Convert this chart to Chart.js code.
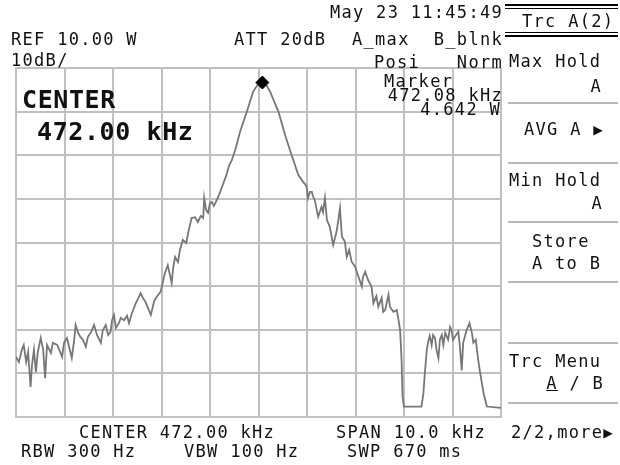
<!DOCTYPE html>
<html>
<head>
<meta charset="utf-8">
<script src="https://cdn.jsdelivr.net/npm/chart.js@4/dist/chart.umd.min.js"></script>
<style>
  body { margin: 0; background: #fff; }
  #wrap { position: relative; width: 620px; height: 465px; overflow: hidden; background: #fff; }
  #wrap canvas { position: absolute; left: 0; top: 0; }
  .t { position: absolute; white-space: pre; color: #111; line-height: 1;
       font-family: "DejaVu Sans Mono", monospace; font-size: 17px; letter-spacing: 1.3px; }
  .big { font-size: 25px; letter-spacing: 0.6px; font-weight: bold; }
  .ln { position: absolute; height: 2px; }
  .arr { font-size: 16px; letter-spacing: 0; }
</style>
</head>
<body>
<div id="wrap">
  <canvas id="sa" width="620" height="465"></canvas>
</div>
<script>
const freqKHz = [
  467.00, 467.06, 467.12, 467.16, 467.21, 467.25, 467.30, 467.33, 467.37, 467.41,
  467.45, 467.51, 467.56, 467.60, 467.64, 467.72, 467.76, 467.85, 467.91, 467.95,
  467.99, 468.05, 468.11, 468.15, 468.20, 468.23, 468.28, 468.33, 468.38, 468.44,
  468.48, 468.55, 468.61, 468.67, 468.75, 468.79, 468.85, 468.90, 468.95, 468.98,
  469.02, 469.06, 469.12, 469.16, 469.23, 469.29, 469.33, 469.39, 469.47, 469.52,
  469.57, 469.62, 469.67, 469.72, 469.78, 469.85, 469.91, 469.98, 470.01, 470.07,
  470.13, 470.21, 470.24, 470.28, 470.34, 470.38, 470.44, 470.51, 470.55, 470.62,
  470.69, 470.75, 470.81, 470.86, 470.88, 470.92, 470.96, 471.00, 471.04, 471.08,
  471.14, 471.21, 471.27, 471.34, 471.39, 471.45, 471.52, 471.62, 471.76, 471.89,
  471.99, 472.08, 472.16, 472.24, 472.41, 472.55, 472.68, 472.82, 472.92, 472.99,
  473.02, 473.06, 473.10, 473.12, 473.16, 473.23, 473.30, 473.33, 473.37, 473.41,
  473.47, 473.54, 473.61, 473.64, 473.68, 473.72, 473.78, 473.82, 473.87, 473.92,
  473.99, 474.06, 474.13, 474.15, 474.20, 474.26, 474.33, 474.37, 474.43, 474.47,
  474.54, 474.57, 474.61, 474.68, 474.71, 474.78, 474.85, 474.88, 474.92, 474.95,
  474.97, 475.00, 475.36, 475.40, 475.43, 475.47, 475.50, 475.53, 475.57, 475.60,
  475.64, 475.67, 475.71, 475.74, 475.78, 475.81, 475.85, 475.91, 475.95, 475.98,
  476.01, 476.05, 476.12, 476.15, 476.19, 476.22, 476.29, 476.35, 476.40, 476.43,
  476.48, 476.53, 476.57, 476.64, 476.71, 477.00
];
const levelDbW = [
  -56.2, -57.4, -54.6, -53.5, -57.4, -55.1, -63.1, -58.1, -54.6, -59.7,
  -55.1, -51.9, -54.6, -61.1, -53.5, -55.3, -53.0, -53.5, -55.1, -56.2,
  -53.0, -51.9, -54.6, -56.5, -52.3, -48.9, -50.7, -51.7, -52.3, -53.9,
  -51.7, -50.5, -48.9, -51.2, -53.0, -50.1, -48.9, -51.2, -50.5, -47.8,
  -46.6, -49.6, -48.5, -47.3, -47.8, -46.8, -48.5, -46.2, -43.9, -42.8,
  -41.6, -42.8, -43.6, -45.0, -46.6, -43.4, -42.3, -41.3, -40.0, -37.0,
  -35.2, -39.3, -35.9, -33.3, -34.5, -31.7, -29.4, -30.1, -27.8, -24.4,
  -24.2, -25.3, -23.9, -24.4, -19.8, -22.6, -23.2, -20.9, -20.7, -21.6,
  -20.3, -18.4, -16.6, -14.5, -12.5, -11.1, -8.8, -4.6, 0.0, 4.6,
  6.3, 6.67, 6.1, 4.6, 0.0, -5.4, -9.9, -14.5, -16.1, -17.0,
  -19.8, -18.4, -18.4, -19.3, -20.3, -24.1, -21.8, -23.0, -19.8, -24.8,
  -26.4, -30.6, -27.5, -25.3, -22.1, -28.7, -29.8, -33.3, -31.7, -34.4,
  -35.5, -37.8, -40.1, -38.1, -36.7, -38.6, -40.1, -43.9, -42.3, -44.7,
  -42.7, -45.9, -45.5, -42.0, -44.7, -45.9, -45.5, -47.3, -50.1, -56.9,
  -65.3, -67.6, -67.6, -64.6, -59.9, -54.6, -52.7, -51.4, -53.5, -51.2,
  -51.9, -54.6, -56.5, -52.3, -51.2, -53.5, -50.7, -52.3, -49.4, -50.1,
  -52.3, -51.6, -50.4, -53.5, -59.3, -53.0, -50.1, -48.5, -50.7, -53.0,
  -52.3, -56.9, -59.9, -64.5, -67.6, -67.9
];
const markerFreq = 472.08;   // kHz
const markerLevel = 6.67;    // dBW (4.642 W)
const spanKHz = [467, 477];  // center 472.00 kHz, span 10 kHz
const levelRange = [-70, 10]; // REF 10.00 W = 10 dBW, 10 dB/div

// screen annotations
const wrap = document.getElementById('wrap');
function txt(s, x, base, opts) {
  opts = opts || {};
  const d = document.createElement('div');
  d.className = 't' + (opts.big ? ' big' : '');
  const fs = opts.big ? 25 : 17;
  d.style.top = (base - 0.846 * fs) + 'px';
  if (opts.right) d.style.right = (620 - x) + 'px';
  else d.style.left = x + 'px';
  if (opts.html) d.innerHTML = s; else d.textContent = s;
  wrap.appendChild(d);
}
function hline(x1, x2, y, color, h) {
  const d = document.createElement('div');
  d.className = 'ln';
  d.style.left = x1 + 'px';
  d.style.width = (x2 - x1) + 'px';
  d.style.top = y + 'px';
  d.style.height = (h || 2) + 'px';
  d.style.background = color;
  wrap.appendChild(d);
}

txt('May 23 11:45:49', 503, 18.5, {right: true});
txt('REF 10.00 W', 11, 45);
txt('ATT 20dB', 234, 45);
txt('A_max', 352, 45);
txt('B_blnk', 503, 45, {right: true});
txt('10dB/', 11, 66);
txt('Posi', 374, 68);
txt('Norm', 503, 68, {right: true});
txt('Marker', 384, 87);
txt('472.08 kHz', 503, 101, {right: true});
txt('4.642 W', 501, 115, {right: true});
txt('CENTER', 22, 108, {big: true});
txt('472.00 kHz', 37, 140, {big: true});
txt('CENTER 472.00 kHz', 79, 438);
txt('SPAN 10.0 kHz', 336, 438);
txt('RBW 300 Hz', 21, 457);
txt('VBW 100 Hz', 184, 457);
txt('SWP 670 ms', 347, 457);

// soft key menu
hline(505, 618, 4, '#000', 1.5);
hline(505, 618, 7.5, '#000', 1.5);
hline(505, 618, 31.5, '#000', 1.5);
hline(505, 618, 35, '#000', 1.5);
txt('Trc A(2)', 522, 27);
txt('Max Hold', 509, 67);
txt('A', 602, 92, {right: true});
hline(508, 618, 102, '#b8b8b8');
txt('AVG A <span class="arr">&#9654;</span>', 524, 135, {html: true});
hline(508, 618, 162, '#b8b8b8');
txt('Min Hold', 509, 186);
txt('A', 603, 209, {right: true});
hline(508, 618, 221, '#b8b8b8');
txt('Store', 532, 247);
txt('A to B', 532, 269);
hline(508, 618, 281, '#b8b8b8');
hline(508, 618, 342, '#b8b8b8');
txt('Trc Menu', 509, 367);
txt('<span style="text-decoration:underline">A</span> / B', 604, 389, {right: true, html: true});
hline(508, 618, 402, '#b8b8b8');
txt('2/2,more<span class="arr">&#9654;</span>', 511, 438, {html: true});

const gridCol = '#c0c0c0';
new Chart(document.getElementById('sa').getContext('2d'), {
  type: 'line',
  data: {
    datasets: [
      {
        data: [{x: markerFreq, y: markerLevel}],
        showLine: false,
        pointStyle: 'rectRot',
        pointRadius: 6.5,
        backgroundColor: '#000',
        borderColor: '#000',
        order: 0
      },
      {
        data: freqKHz.map((f, i) => ({x: f, y: levelDbW[i]})),
        borderColor: '#777',
        borderWidth: 1.8,
        pointRadius: 0,
        tension: 0,
        order: 1
      }
    ]
  },
  options: {
    responsive: false,
    animation: false,
    events: [],
    layout: { padding: { left: 16, top: 68, right: 119, bottom: 48 } },
    plugins: { legend: { display: false }, tooltip: { enabled: false } },
    scales: {
      x: {
        type: 'linear', min: spanKHz[0], max: spanKHz[1],
        ticks: { display: false, stepSize: 1 },
        grid: { color: gridCol, lineWidth: 2, drawTicks: false },
        border: { color: gridCol, width: 2 }
      },
      y: {
        min: levelRange[0], max: levelRange[1],
        ticks: { display: false, stepSize: 10 },
        grid: { color: gridCol, lineWidth: 2, drawTicks: false },
        border: { color: gridCol, width: 2 }
      }
    }
  }
});
</script>
</body>
</html>
